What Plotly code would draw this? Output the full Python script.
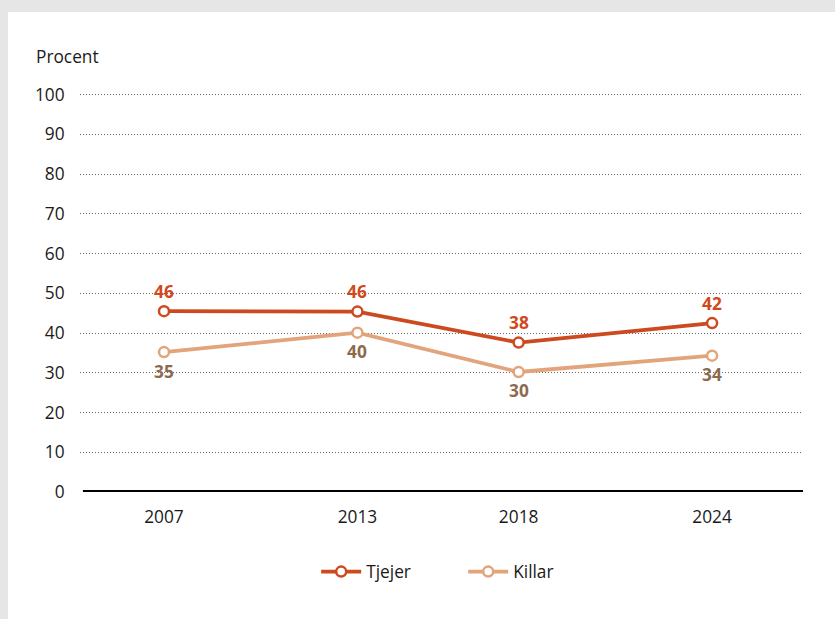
import plotly.graph_objects as go

years = [2007, 2013, 2018, 2024]
tjejer = [45.5, 45.4, 37.6, 42.5]
killar = [35.2, 40.1, 30.2, 34.3]
tjejer_labels = ["46", "46", "38", "42"]
killar_labels = ["35", "40", "30", "34"]
y_ticks = [0, 10, 20, 30, 40, 50, 60, 70, 80, 90, 100]

c_tj = "#cc4a1e"
c_ki = "#e2a47b"
c_tj_lab = "#d0481c"
c_ki_lab = "#8c6a4e"
FONT = "Open Sans"
FS = 17.3

fig = go.Figure()
fig.add_trace(go.Scatter(
    x=years, y=tjejer, name="Tjejer", mode="lines+markers",
    line=dict(color=c_tj, width=3.8),
    marker=dict(size=10, color="white", line=dict(color=c_tj, width=2.5)),
    cliponaxis=False,
))
fig.add_trace(go.Scatter(
    x=years, y=killar, name="Killar", mode="lines+markers",
    line=dict(color=c_ki, width=3.8),
    marker=dict(size=10, color="white", line=dict(color=c_ki, width=2.5)),
    cliponaxis=False,
))

W, H = 835, 619
L, R, T, B = 80, 32, 93, 127
PW, PH = W - L - R, H - T - B

annotations = [
    dict(text="Procent", xref="paper", yref="paper",
         x=(34 - L) / PW, y=(H - B - 56) / PH,
         xanchor="left", yanchor="middle", showarrow=False,
         font=dict(size=FS, family=FONT, color="#1a1a1a")),
]
for xv, yv, t in zip(years, tjejer, tjejer_labels):
    annotations.append(dict(x=xv, y=yv, text=t, showarrow=False, yshift=20,
                            xanchor="center", yanchor="middle",
                            font=dict(size=FS, family=FONT, color=c_tj_lab, weight="bold")))
for xv, yv, t in zip(years, killar, killar_labels):
    annotations.append(dict(x=xv, y=yv, text=t, showarrow=False, yshift=-19,
                            xanchor="center", yanchor="middle",
                            font=dict(size=FS, family=FONT, color=c_ki_lab, weight="bold")))

fig.update_layout(
    width=W, height=H,
    margin=dict(l=L, r=R, t=T, b=B, pad=0),
    paper_bgcolor="#e6e6e6",
    plot_bgcolor="rgba(0,0,0,0)",
    font=dict(family=FONT, size=FS, color="#1a1a1a"),
    showlegend=True,
    legend=dict(orientation="h", x=0.53, xanchor="center", y=-0.2, yanchor="middle",
                bgcolor="rgba(0,0,0,0)",
                font=dict(size=FS, family=FONT, color="#1a1a1a"),
                itemwidth=40, entrywidth=92, entrywidthmode="pixels"),
    xaxis=dict(range=[2004.395, 2026.82], tickvals=years, showgrid=False, zeroline=False,
               showline=False, ticks="outside", ticklen=9, tickcolor="rgba(0,0,0,0)",
               tickfont=dict(size=FS, color="#1a1a1a")),
    yaxis=dict(range=[0, 100.4], tickvals=y_ticks, showgrid=True, gridcolor="#666666",
               gridwidth=1, griddash="1px,2px", zeroline=False, showline=False,
               ticks="outside", ticklen=11, tickcolor="rgba(0,0,0,0)",
               tickfont=dict(size=FS, color="#1a1a1a")),
    shapes=[
        dict(type="rect", xref="paper", yref="paper",
             x0=(8 - L) / PW, x1=(W + 5 - L) / PW,
             y0=-(B + 5) / PH, y1=(H - B - 12) / PH,
             fillcolor="white", line=dict(width=0), layer="below"),
        dict(type="line", xref="paper", yref="y", x0=0.004, x1=1.0, y0=0, y1=0,
             line=dict(color="black", width=4), layer="above"),
    ],
    annotations=annotations,
)

fig.write_html("out.html", config={"displayModeBar": False},
               post_script="document.body.style.margin='0px';document.body.style.overflow='hidden';")
